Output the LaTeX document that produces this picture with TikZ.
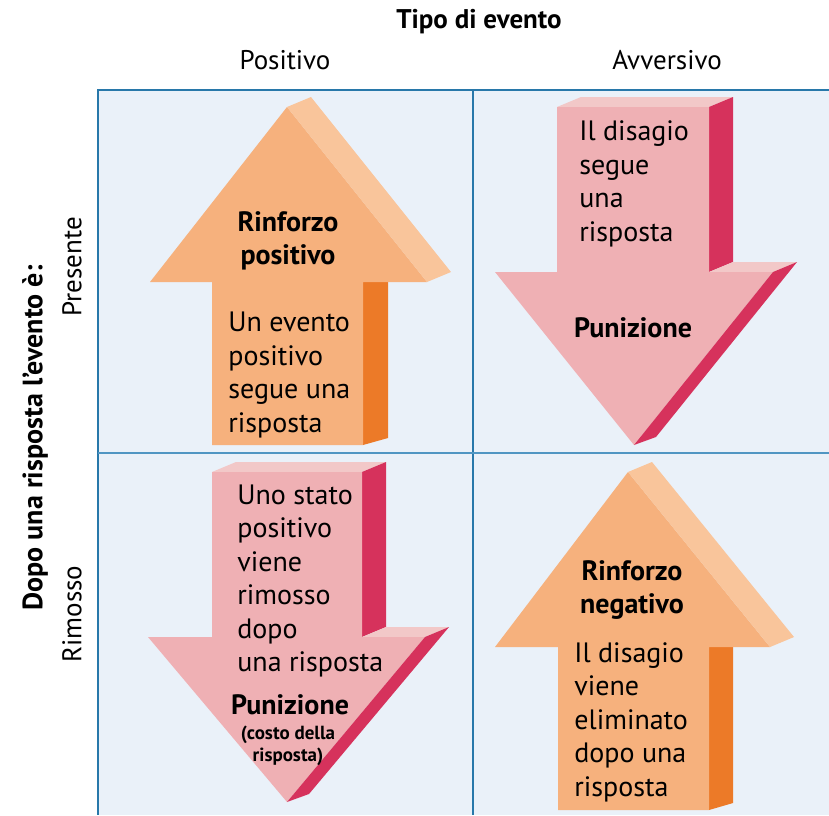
\documentclass[tikz,border=0pt]{standalone}
\usepackage{fontspec}
\setmainfont{PT Sans}

\tikzset{every picture/.style={line width=0.75pt}}
\tikzset{
  body/.style={font=\fontsize{28}{33.5}\selectfont, align=left, inner sep=0pt},
  bodybold/.style={font=\bfseries\fontsize{28}{33}\selectfont, align=center, inner sep=0pt},
  smallbold/.style={font=\bfseries\fontsize{19}{22}\selectfont, align=center, inner sep=0pt},
  headlab/.style={font=\fontsize{27}{30}\selectfont, inner sep=0pt},
}

\begin{document}
\begin{tikzpicture}[x=1pt,y=1pt,yscale=-1]
  \useasboundingbox (0,0) rectangle (829,815);

  % cells
  \fill [fill={rgb, 255:red, 234; green, 241; blue, 249 }] (98,90) rectangle (829,815);
  \draw [color={rgb, 255:red, 40; green, 120; blue, 170 }, line width=1.5pt] (829,90) -- (98,90) -- (98,815);
  \draw [color={rgb, 255:red, 40; green, 120; blue, 170 }, line width=1.2pt] (473,90) -- (473,815);
  \draw [color={rgb, 255:red, 80; green, 150; blue, 195 }, line width=1.2pt] (98,453) -- (829,453);

  % up arrow, top left
  \draw [fill={rgb, 255:red, 236; green, 122; blue, 40 }, draw opacity=0] (363,282) -- (388,272) -- (388,438) -- (363,445) -- cycle;
  \draw [fill={rgb, 255:red, 246; green, 177; blue, 125 }, draw opacity=0] (212,445) -- (212,282) -- (150,282) -- (287,107) -- (427,282) -- (363,282) -- (363,445) -- cycle;
  \draw [fill={rgb, 255:red, 249; green, 197; blue, 155 }, draw opacity=0] (287,107) -- (311,97) -- (451,272) -- (427,282) -- cycle;

  % down arrow, top right
  \draw [fill={rgb, 255:red, 242; green, 200; blue, 200 }, draw opacity=0] (557,107) -- (581,97) -- (733,97) -- (709,107) -- cycle;
  \draw [fill={rgb, 255:red, 214; green, 50; blue, 92 }, draw opacity=0] (709,107) -- (733,97) -- (733,262) -- (709,272) -- cycle;
  \draw [fill={rgb, 255:red, 242; green, 200; blue, 200 }, draw opacity=0] (709,272) -- (733,262) -- (797,262) -- (773,272) -- cycle;
  \draw [fill={rgb, 255:red, 239; green, 176; blue, 180 }, draw opacity=0] (557,107) -- (709,107) -- (709,272) -- (773,272) -- (634,445) -- (495,272) -- (557,272) -- cycle;
  \draw [fill={rgb, 255:red, 214; green, 50; blue, 92 }, draw opacity=0] (773,272) -- (797,262) -- (656,437) -- (634,445) -- cycle;

  % down arrow, bottom left
  \draw [fill={rgb, 255:red, 242; green, 200; blue, 200 }, draw opacity=0] (212,472) -- (236,462) -- (386,462) -- (362,472) -- cycle;
  \draw [fill={rgb, 255:red, 214; green, 50; blue, 92 }, draw opacity=0] (362,472) -- (386,462) -- (386,627) -- (362,637) -- cycle;
  \draw [fill={rgb, 255:red, 242; green, 200; blue, 200 }, draw opacity=0] (362,637) -- (386,627) -- (449,627) -- (425,637) -- cycle;
  \draw [fill={rgb, 255:red, 239; green, 176; blue, 180 }, draw opacity=0] (212,472) -- (362,472) -- (362,637) -- (425,637) -- (287,802) -- (148,637) -- (212,637) -- cycle;
  \draw [fill={rgb, 255:red, 214; green, 50; blue, 92 }, draw opacity=0] (425,637) -- (449,627) -- (309,794) -- (287,802) -- cycle;

  % up arrow, bottom right
  \draw [fill={rgb, 255:red, 236; green, 122; blue, 40 }, draw opacity=0] (709,647) -- (733,637) -- (733,803) -- (709,810) -- cycle;
  \draw [fill={rgb, 255:red, 246; green, 177; blue, 125 }, draw opacity=0] (558,810) -- (558,647) -- (495,647) -- (628,472) -- (770,647) -- (709,647) -- (709,810) -- cycle;
  \draw [fill={rgb, 255:red, 249; green, 197; blue, 155 }, draw opacity=0] (628,472) -- (652,462) -- (794,637) -- (770,647) -- cycle;

  % headings
  \node [font=\bfseries\fontsize{27}{30}\selectfont, inner sep=0pt] (title) at (479,22) {Tipo di evento};
  \node [headlab] (colpos) at (285,60) {Positivo};
  \node [headlab] (colavv) at (667,60) {Avversivo};
  \node [font=\bfseries\fontsize{28}{30}\selectfont, inner sep=0pt, rotate=90] (rowlab) at (35,438) {Dopo una risposta l’evento è:};
  \node [headlab, rotate=90] (rowpres) at (72,267) {Presente};
  \node [headlab, rotate=90] (rowrim) at (72,614) {Rimosso};

  % texts in arrows
  \node [bodybold] (rposname) at (288,241) {Rinforzo\\positivo};
  \node [body, anchor=west] (rpostext) at (228,375) {Un evento\\positivo\\segue una\\risposta};

  \node [body, anchor=west] (punatext) at (579,184) {Il disagio\\segue\\una\\risposta};
  \node [bodybold] (punaname) at (633,328) {Punizione};

  \node [body, anchor=west] (punbtext) at (237,581) {Uno stato\\positivo\\viene\\rimosso\\dopo\\una risposta};
  \node [bodybold] (punbname) at (290,705) {Punizione};
  \node [smallbold] (punbnote) at (288,746) {(costo della\\risposta)};

  \node [bodybold] (rnegname) at (632,590) {Rinforzo\\negativo};
  \node [body, anchor=west] (rnegtext) at (574,722) {Il disagio\\viene\\eliminato\\dopo una\\risposta};

\end{tikzpicture}
\end{document}
